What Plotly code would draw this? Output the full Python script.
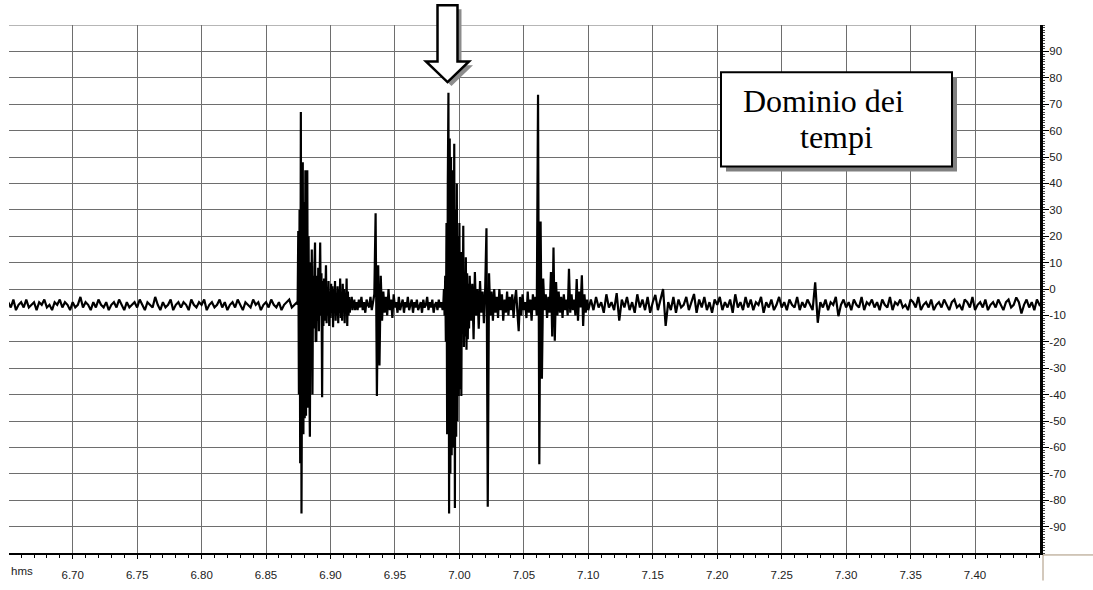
import plotly.graph_objects as go

# ---------------------------------------------------------------------------
# Seismic trace, stored as regularly sampled segments
# (segment start time [s], sample step [s], amplitudes)
# ---------------------------------------------------------------------------
seg_a_start, seg_a_step = 6.650, 0.002
seg_a = [
    -5, -7, -4, -8, -6, -5, -7, -4, -7, -6,
    -5, -8, -5, -6, -4, -7, -6, -8, -5, -6,
    -4, -7, -5, -6, -8, -5, -7, -6, -3, -7,
    -5, -6, -8, -5, -7, -4, -6, -7, -5, -8,
    -6, -5, -7, -4, -6, -8, -5, -7, -6, -5,
    -7, -4, -6, -8, -5, -6, -7, -3, -6, -8,
    -5, -7, -6, -4, -8, -6, -5, -7, -5, -6,
    -8, -4, -6, -7, -5, -6, -4, -8, -6, -5,
    -7, -6, -4, -7, -5, -8, -6, -5, -7, -4,
    -6, -8, -5, -6, -7, -4, -6, -5, -8, -6,
    -5, -7, -4, -6, -7, -5, -8, -6, -5, -4,
    -7, -6, -5,
]

seg_b_start, seg_b_step = 6.8745, 0.0005
seg_b = [
    -6, 22, -40, 30, -66, 67, -85, 36, 48, -55,
    33, -49, 45, -48, 30, 45, -45, 20, -30, -56,
    10, -20, 15, -40, 5, -15, 8, 17.6, -19.6, -20,
    5, -12, 8, -16, 2, 17.6, -10, 6, -41, 3,
    -14, 4, -12, 2, 9, -13, 0, -10, 3, -14,
    -1, -11, 2, -9, 1, -14.5, 0, -8, 3, -12,
    -2, -10, 1, -13, 0, -9, 4, -11, -3, -12,
    2, -8, 0, -13, -2, -9, 4, -14, -1, -10,
    -3, -9, -4, -7, -3, -8, -5, -7, -4, -8,
    -6,
]

seg_c_start, seg_c_step = 6.920, 0.001
seg_c = [
    -5, -8, -4, -7, -3, -8, -5, -9, -4, -6,
    -7, -3, -8, -5, -2, 28.7, -40.5, 9, -29, 5,
    -12, -1, -9, -3, -10, 0, -8, -4, -11, -2,
    -7, -5, -9, -3, -8, -6, -4, -9, -5, -7,
    -3, -8, -6, -4, -9, -5, -7, -4, -8, -6,
    -5, -9, -4, -7, -6, -3, -8, -5, -7, -4,
    -9, -6, -5, -8, -4, -7, -5, -8,
]

seg_d_start, seg_d_step = 6.9875, 0.0005
seg_d = [
    -6, 0, -10, 5, -20, 25, -55, 40, 74.3, -85,
    57, -70, 50, -63, 45, -60, 35, 55, -83, 30,
    -56, 40, -50, 20, -40.5, 25, -38, 14, -40.5, 14,
    -15, 24, -22, 5, -18, 12, -23, 6, -19, 2,
    -15,
]

seg_e_start, seg_e_step = 7.008, 0.001
seg_e = [
    5, -12, 2, -19, 6.4, -10, 0, -15, 3, -9,
    -1, -13, 0, 23, -82.5, 6, -10, -1, -12, 0,
    -9, -3, -11, 0, -8, -2, -12, -4, -9, -1,
    -10, -3, -8, -2, -11, -4, -0.4, -9, -16, -3,
    -10, -2, -8, -5, -11, -1, -9, -4, -12, -2,
    -8, -3, -10, 73.6, -66.4, 25.6, -34, 4, -8, -2,
    -11, -3, -9, 6.4, -18, 15.7, -19.6, 2.6, -10, -1,
    -9, -3, -11, -2, -8, -4, -10, 7.7, -9, -2,
    -8, -4, -10, 3.8, -12, -1, -7, 5.2, -14, -2,
    -9, -4, -8,
]

seg_f_start, seg_f_step = 7.102, 0.002
seg_f = [
    -4, -8, -3, -7, -5, -9, -2, -7, -5, -8,
    -1.6, -12, -4, -7, -3, -8, -5, -9, -2, -7,
    -4, -8, -3, -9, -5, -2.2, -8, -4, 0, -14,
    -5, -8, -3, -9, -4, -7, -6, -3, -8, -5,
    -1.9, -9, -4, -7, -3, -8, -5, -9, -4, -6,
    -3, -8, -5, -7, -4, -9, -2, -7, -5, -8,
    -3, -7, -4, -8, -5, -6, -3, -9, -5, -7,
    -4, -8, -6, -3, -7, -5, -8, -4, -6, -7,
    -3, -8, -5, -7, -4, -6, -8, 2.5, -12.8, -5,
    -7, -4, -8, -5, -6, -3, -10.3, -6, -4, -7,
    -5, -8, -4, -6, -7, -3, -8, -5, -6, -4,
    -7, -5, -8, -4, -6, -7, -3, -8, -5, -6,
    -4, -7, -6, -8, -4, -5, -7, -3, -8, -6,
    -5, -7, -4, -8, -6, -5, -7, -4, -6, -8,
    -5, -4, -7, -6, -8, -4, -5, -7, -3, -8,
    -6, -5, -7, -4, -8, -6, -5, -7, -4, -6,
    -8, -5, -4, -7, -6, -3.2, -5, -9.3, -6, -4,
    -7, -5, -8, -4, -6, -5,
]

# Axis ticks
x_ticks = [6.70, 6.75, 6.80, 6.85, 6.90, 6.95, 7.00, 7.05, 7.10, 7.15,
           7.20, 7.25, 7.30, 7.35, 7.40]
x_labels = ["6.70", "6.75", "6.80", "6.85", "6.90", "6.95", "7.00", "7.05",
            "7.10", "7.15", "7.20", "7.25", "7.30", "7.35", "7.40"]
y_ticks = [90, 80, 70, 60, 50, 40, 30, 20, 10, 0,
           -10, -20, -30, -40, -50, -60, -70, -80, -90]
y_labels = ["90", "80", "70", "60", "50", "40", "30", "20", "10", "0",
            "-10", "-20", "-30", "-40", "-50", "-60", "-70", "-80", "-90"]

# ---------------------------------------------------------------------------
segments = [
    (seg_a_start, seg_a_step, seg_a),
    (seg_b_start, seg_b_step, seg_b),
    (seg_c_start, seg_c_step, seg_c),
    (seg_d_start, seg_d_step, seg_d),
    (seg_e_start, seg_e_step, seg_e),
    (seg_f_start, seg_f_step, seg_f),
]
t, amp = [], []
for start, step, vals in segments:
    t.extend(round(start + k * step, 5) for k in range(len(vals)))
    amp.extend(vals)

W, H = 1093, 590
ML, MR, MT, MB = 9, 53, 25, 28
PW, PH = W - ML - MR, H - MT - MB


def px(x):
    """pixel column -> paper x"""
    return (x - ML) / PW


def py(y):
    """pixel row -> paper y"""
    return (H - MB - y) / PH


GRID = "#6e6e6e"
TICKFONT = dict(family="Liberation Sans, Arial, sans-serif", size=11.5, color="#222222")

fig = go.Figure()
fig.add_trace(go.Scatter(
    x=t, y=amp, mode="lines",
    line=dict(color="black", width=2.2),
    hoverinfo="skip", showlegend=False,
))

shapes = []
# top border line of the grid
shapes.append(dict(type="line", xref="paper", yref="y", x0=0, x1=1, y0=100, y1=100,
                   line=dict(color=GRID, width=1), layer="below"))
# corner lines under the right axis
tan = "#a8937a"
shapes.append(dict(type="line", xref="paper", yref="paper",
                   x0=px(1043), x1=px(1043), y0=py(564), y1=py(590),
                   line=dict(color=tan, width=1)))
shapes.append(dict(type="line", xref="paper", yref="paper",
                   x0=px(1043), x1=px(1093), y0=py(564), y1=py(564),
                   line=dict(color=tan, width=1)))

# text box with drop shadow
bx0, bx1, by0, by1 = 721, 952, 73, 169
sh = 5
shapes.append(dict(type="rect", xref="paper", yref="paper",
                   x0=px(bx0 + sh), x1=px(bx1 + sh), y0=py(by1 + sh), y1=py(by0 + sh),
                   fillcolor="#808080", line=dict(width=0), layer="above"))
shapes.append(dict(type="rect", xref="paper", yref="paper",
                   x0=px(bx0), x1=px(bx1), y0=py(by1), y1=py(by0),
                   fillcolor="white", line=dict(color="black", width=2), layer="above"))

# hollow arrow with drop shadow
arrow_pts = [(437.5, 5), (457.5, 5), (457.5, 62), (469, 62), (447.5, 83),
             (426, 62), (437.5, 62)]


def arrow_path(dx, dy):
    pts = [(px(x + dx), py(y + dy)) for x, y in arrow_pts]
    return "M " + " L ".join(f"{a:.5f},{b:.5f}" for a, b in pts) + " Z"


shapes.append(dict(type="path", xref="paper", yref="paper", path=arrow_path(4, 4),
                   fillcolor="#8c8c8c", line=dict(width=0), layer="above"))
shapes.append(dict(type="path", xref="paper", yref="paper", path=arrow_path(0, 0),
                   fillcolor="white", line=dict(color="black", width=2.5), layer="above"))

serif = dict(family="Liberation Serif, Times New Roman, serif", size=32, color="black")
annotations = [
    dict(text="Dominio dei", xref="paper", yref="paper", x=px(741), y=py(102),
         xanchor="left", yanchor="middle", showarrow=False, font=serif),
    dict(text="tempi", xref="paper", yref="paper", x=px(798), y=py(139),
         xanchor="left", yanchor="middle", showarrow=False, font=serif),
    dict(text="hms", xref="paper", yref="paper", x=px(22), y=py(580),
         xanchor="center", yanchor="middle", showarrow=False, font=TICKFONT),
]

fig.update_layout(
    width=W, height=H,
    margin=dict(l=ML, r=MR, t=MT, b=MB, pad=0),
    paper_bgcolor="white", plot_bgcolor="white",
    shapes=shapes, annotations=annotations,
    xaxis=dict(
        range=[6.6506, 7.4504], tickmode="array", tickvals=x_ticks, ticktext=x_labels,
        showgrid=True, gridcolor=GRID, gridwidth=1, zeroline=False,
        showline=True, linecolor="black", linewidth=2,
        ticks="outside", ticklen=4, tickwidth=1, tickcolor="black",
        tickfont=TICKFONT, ticklabelstandoff=6,
        minor=dict(tickmode="linear", tick0=6.65, dtick=0.01, ticks="outside",
                   ticklen=3, tickwidth=1, tickcolor="black", showgrid=False),
        fixedrange=True,
    ),
    yaxis=dict(
        range=[-100, 100], side="right", tickmode="array", tickvals=y_ticks,
        ticktext=y_labels, showgrid=True, gridcolor=GRID, gridwidth=1, zeroline=False,
        showline=True, linecolor="black", linewidth=3,
        ticks="outside", ticklen=6, tickwidth=1, tickcolor="black",
        tickfont=TICKFONT, ticklabelstandoff=-2,
        minor=dict(tickmode="linear", tick0=-100, dtick=1, ticks="outside",
                   ticklen=2, tickwidth=1, tickcolor="#444", showgrid=False),
        fixedrange=True,
    ),
)

fig.write_html("out.html")
